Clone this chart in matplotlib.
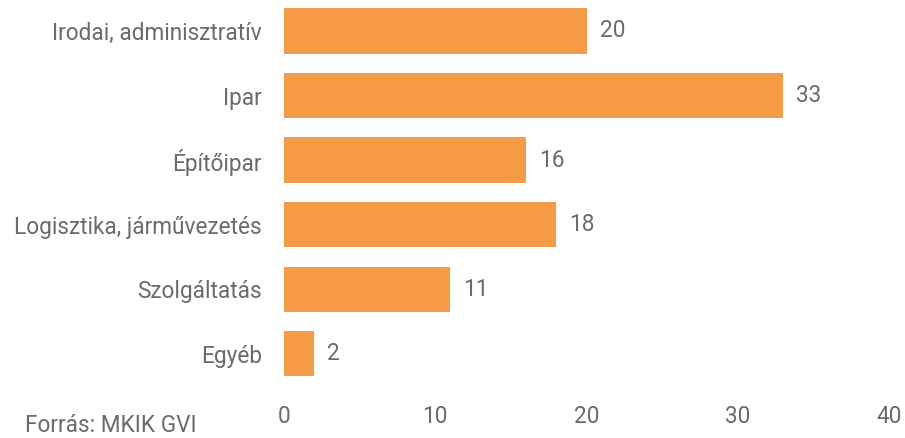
import matplotlib
matplotlib.use("Agg")
import matplotlib.pyplot as plt

categories = ["Irodai, adminisztratív", "Ipar", "Építőipar",
              "Logisztika, járművezetés", "Szolgáltatás", "Egyéb"]
values = [20, 33, 16, 18, 11, 2]
xticks = [0, 10, 20, 30, 40]
source = "Forrás: MKIK GVI"

bar_color = "#F59B47"
text_color = "#6B6B6B"
fs = 16.3
plt.rcParams["font.family"] = ["Roboto", "DejaVu Sans"]

fig = plt.figure(figsize=(9.05, 4.38), dpi=100)
ax = fig.add_axes([284 / 905, 0.1187, 605 / 905, 0.8843])

ypos = list(range(len(categories)))
ax.barh(ypos, values, height=0.7, color=bar_color)
for y, v in zip(ypos, values):
    ax.annotate(str(v), (v, y), xytext=(9.5, 0), textcoords="offset points",
                va="center", ha="left", fontsize=fs, color=text_color)

ax.set_xlim(0, 40)
ax.set_ylim(len(categories) - 0.5, -0.5)
ax.set_yticks(ypos)
ax.set_yticklabels(categories)
ax.set_xticks(xticks)
ax.set_xticklabels([str(t) for t in xticks])
ax.tick_params(axis="both", length=0, labelsize=fs, labelcolor=text_color)
ax.tick_params(axis="y", pad=16)
ax.tick_params(axis="x", pad=14)
for s in ax.spines.values():
    s.set_visible(False)

fig.text(25 / 905, 0.002, source, ha="left", va="bottom",
         fontsize=fs, color=text_color)

fig.savefig("out.png", dpi=100)
